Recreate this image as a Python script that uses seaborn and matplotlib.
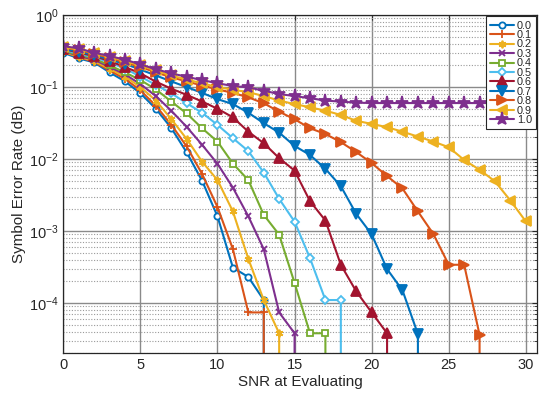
import matplotlib
matplotlib.use("Agg")
import matplotlib.pyplot as plt
import seaborn as sns

snr = list(range(31))
labels = ["0.0", "0.1", "0.2", "0.3", "0.4", "0.5", "0.6", "0.7", "0.8", "0.9", "1.0"]

ser_00 = [0.30, 0.25, 0.22, 0.16, 0.12, 0.082, 0.050, 0.027, 0.0124, 5.0e-3, 1.6e-3, 3.1e-4, 2.3e-4, 1.1e-4,
          0, 0, 0, 0, 0, 0, 0, 0, 0, 0, 0, 0, 0, 0, 0, 0, 0]
ser_01 = [0.31, 0.26, 0.225, 0.17, 0.13, 0.09, 0.055, 0.030, 0.015, 6.2e-3, 2.15e-3, 5.6e-4, 7.4e-5, 7.4e-5,
          0, 0, 0, 0, 0, 0, 0, 0, 0, 0, 0, 0, 0, 0, 0, 0, 0]
ser_02 = [0.31, 0.265, 0.23, 0.18, 0.14, 0.10, 0.065, 0.036, 0.019, 9.2e-3, 5.1e-3, 1.87e-3, 4.1e-4, 1.1e-4,
          3.8e-5, 0, 0, 0, 0, 0, 0, 0, 0, 0, 0, 0, 0, 0, 0, 0, 0]
ser_03 = [0.32, 0.27, 0.24, 0.19, 0.15, 0.11, 0.075, 0.047, 0.028, 0.0158, 8.6e-3, 4.0e-3, 1.6e-3, 5.6e-4,
          7.4e-5, 3.8e-5, 0, 0, 0, 0, 0, 0, 0, 0, 0, 0, 0, 0, 0, 0, 0]
ser_04 = [0.32, 0.28, 0.25, 0.20, 0.16, 0.125, 0.093, 0.063, 0.043, 0.0268, 0.0175, 8.65e-3, 5.1e-3, 1.68e-3,
          8.9e-4, 1.9e-4, 3.8e-5, 3.8e-5, 0, 0, 0, 0, 0, 0, 0, 0, 0, 0, 0, 0, 0]
ser_05 = [0.33, 0.29, 0.26, 0.22, 0.18, 0.14, 0.107, 0.082, 0.0596, 0.044, 0.0298, 0.0195, 0.0129, 6.5e-3,
          2.8e-3, 1.35e-3, 4.2e-4, 1.1e-4, 1.1e-4, 0, 0, 0, 0, 0, 0, 0, 0, 0, 0, 0, 0]
ser_06 = [0.34, 0.30, 0.27, 0.23, 0.19, 0.155, 0.119, 0.095, 0.078, 0.063, 0.050, 0.038, 0.024, 0.0166,
          0.0103, 6.9e-3, 2.6e-3, 1.4e-3, 3.4e-4, 1.45e-4, 7.4e-5, 3.8e-5, 0, 0, 0, 0, 0, 0, 0, 0, 0]
ser_07 = [0.34, 0.31, 0.28, 0.24, 0.21, 0.175, 0.145, 0.12, 0.10, 0.083, 0.068, 0.058, 0.044, 0.0315,
          0.0233, 0.0152, 0.0114, 7.3e-3, 4.2e-3, 1.73e-3, 9.0e-4, 2.96e-4, 1.5e-4, 3.7e-5, 0, 0, 0, 0, 0, 0, 0]
ser_08 = [0.35, 0.33, 0.29, 0.255, 0.22, 0.19, 0.16, 0.137, 0.12, 0.105, 0.093, 0.083, 0.072, 0.0596,
          0.0455, 0.0357, 0.0268, 0.0223, 0.0172, 0.0125, 8.8e-3, 5.8e-3, 3.9e-3, 1.87e-3, 9.1e-4, 3.4e-4,
          3.4e-4, 3.6e-5, 0, 0, 0]
ser_09 = [0.36, 0.335, 0.30, 0.265, 0.23, 0.20, 0.17, 0.145, 0.127, 0.113, 0.10, 0.092, 0.085, 0.075,
          0.065, 0.058, 0.0524, 0.047, 0.041, 0.034, 0.0308, 0.0277, 0.024, 0.0205, 0.0175, 0.0146, 9.7e-3,
          7.1e-3, 4.9e-3, 2.65e-3, 1.36e-3]
ser_10 = [0.37, 0.345, 0.30, 0.27, 0.24, 0.207, 0.177, 0.155, 0.139, 0.125, 0.113, 0.1035, 0.099, 0.089,
          0.080, 0.075, 0.070, 0.065, 0.0627, 0.0608, 0.060, 0.060, 0.060, 0.060, 0.060, 0.060, 0.060,
          0.060, 0.060, 0.060, 0.060]
series = [ser_00, ser_01, ser_02, ser_03, ser_04, ser_05, ser_06, ser_07, ser_08, ser_09, ser_10]

# matlab default colour order
colors = ["#0072BD", "#D95319", "#EDB120", "#7E2F8E", "#77AC30", "#4DBEEE", "#A2142F",
          "#0072BD", "#D95319", "#EDB120", "#7E2F8E"]
markers = ["o", "+", (6, 2, 0), "x", "s", "D", "^", "v", ">", "<", "*"]
msizes = [4.5, 6, 5.5, 4.5, 4.5, 4.2, 6.5, 6.5, 6.5, 6.5, 9.5]
hollow = [True, False, False, False, True, True, False, False, False, False, False]

sns.set_style("white")
plt.rcParams["font.family"] = ["Liberation Sans", "DejaVu Sans"]
plt.rcParams["axes.edgecolor"] = "#262626"
plt.rcParams["axes.linewidth"] = 0.9

fig = plt.figure(figsize=(5.39, 4.08), dpi=100)
ax = fig.add_axes([0.1175, 0.134, 0.8795, 0.829])

for vals, lab, c, m, ms, h in zip(series, labels, colors, markers, msizes, hollow):
    sns.lineplot(x=snr, y=vals, ax=ax, color=c, marker=m, markersize=ms,
                 markerfacecolor="white" if h else c, markeredgecolor=c,
                 markeredgewidth=1.3, linewidth=1.5, label=lab, errorbar=None)

ax.set_yscale("log")
ax.set_ylim(2e-5, 1)
ax.set_xlim(0, 30.75)
ax.set_xticks([0, 5, 10, 15, 20, 25, 30])

ax.grid(True, which="major", axis="both", color="#8a8a8a", linewidth=1.0, linestyle="-")
ax.grid(True, which="minor", axis="y", color="#9a9a9a", linewidth=0.8, linestyle=(0, (1, 1.5)))
ax.set_axisbelow(True)
ax.tick_params(which="both", direction="in", top=True, right=True, colors="#262626",
               labelsize=10.5, labelcolor="#262626")
ax.tick_params(which="minor", length=2)

ax.set_xlabel("SNR at Evaluating", fontsize=11, color="#262626", labelpad=2)
ax.set_ylabel("Symbol Error Rate (dB)", fontsize=11, color="#262626", labelpad=2)

leg = ax.legend(loc="upper right", fontsize=7.8, labelspacing=-0.05, handlelength=2.2,
                handletextpad=0.25, borderpad=0.4, borderaxespad=0.1, fancybox=False,
                framealpha=1, edgecolor="#262626")
leg.get_frame().set_linewidth(0.8)

fig.savefig("out.png", dpi=100)
